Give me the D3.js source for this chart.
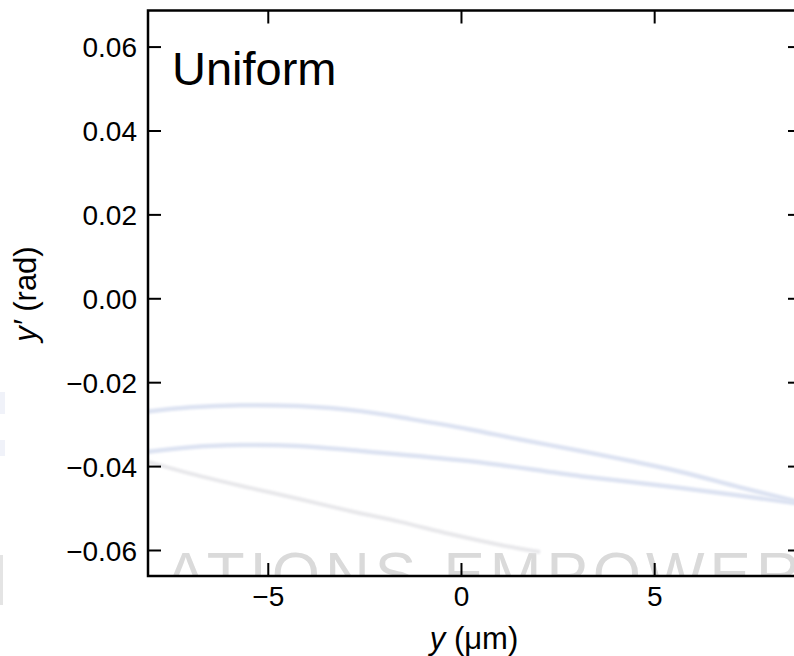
<!DOCTYPE html>
<html>
<head>
<meta charset="utf-8">
<script src="https://cdn.jsdelivr.net/npm/d3@7"></script>
<style>
  body { margin: 0; background: #fff; }
  svg { display: block; font-family: "Liberation Sans", Arial, sans-serif; }
</style>
</head>
<body>
<div id="chart"></div>
<script>
// axis ranges and ticks
var xDomain = [-8.1, 8.8];
var yDomain = [-0.0662, 0.0686];
var xTicks = [-5, 0, 5];
var yTicks = [0.06, 0.04, 0.02, 0.00, -0.02, -0.04, -0.06];

// faint curves (upper blue, middle blue, lower grey)
var upperX = [-8.1, -7.0, -5.7, -4.2, -2.6, -1.3, 0.2, 1.5, 3.1, 4.4, 5.7, 7.2, 8.8];
var upperY = [-0.0270, -0.0260, -0.0255, -0.0257, -0.0269, -0.0288, -0.0312, -0.0336, -0.0364, -0.0388, -0.0414, -0.0450, -0.0487];
var middleX = [-8.1, -7.0, -5.7, -4.2, -2.6, 0.2, 3.1, 5.7, 8.8];
var middleY = [-0.0366, -0.0355, -0.0350, -0.0352, -0.0364, -0.0388, -0.0424, -0.0452, -0.0490];
var lowerX = [-8.1, -6.75, -5.46, -4.16, -2.87, -1.57, -0.28, 1.02, 2.05];
var lowerY = [-0.0390, -0.0424, -0.0452, -0.0479, -0.0507, -0.0533, -0.0562, -0.0588, -0.0605];

var width = 794, height = 656;
var margin = {top: 10.5, right: -7, bottom: 80, left: 148};

var svg = d3.select("#chart").append("svg")
    .attr("width", width)
    .attr("height", height);

var x = d3.scaleLinear().domain(xDomain).range([margin.left, width - margin.right]);
var y = d3.scaleLinear().domain(yDomain).range([height - margin.bottom, margin.top]);

var defs = svg.append("defs");
defs.append("clipPath").attr("id", "plotclip")
  .append("rect")
    .attr("x", x.range()[0]).attr("y", y.range()[1])
    .attr("width", x.range()[1] - x.range()[0])
    .attr("height", y.range()[0] - y.range()[1]);
defs.append("filter").attr("id", "soft")
  .append("feGaussianBlur").attr("stdDeviation", 1.2);

var plot = svg.append("g").attr("clip-path", "url(#plotclip)");

// watermark text behind the plot
plot.append("text")
    .attr("x", 165)
    .attr("y", 595)
    .attr("fill", "#dadada")
    .style("font-size", "62px")
    .style("letter-spacing", "5px")
    .text("ATIONS EMPOWER");

// little watermark bits at the far left edge
svg.append("rect").attr("x", 0).attr("y", 555).attr("width", 3).attr("height", 50).attr("fill", "#e4e4e4");
svg.append("rect").attr("x", 0).attr("y", 392).attr("width", 5).attr("height", 22).attr("fill", "#f0f2f9");
svg.append("rect").attr("x", 0).attr("y", 440).attr("width", 5).attr("height", 16).attr("fill", "#f0f2f9");

var line = d3.line()
    .x(function(d) { return x(d[0]); })
    .y(function(d) { return y(d[1]); })
    .curve(d3.curveCatmullRom);

var curves = [
  {xs: upperX, ys: upperY, color: "#dde3f2", w: 4.5},
  {xs: middleX, ys: middleY, color: "#dde3f2", w: 4.5},
  {xs: lowerX, ys: lowerY, color: "#e8e8eb", w: 4}
];

curves.forEach(function(c) {
  plot.append("path")
      .datum(d3.zip(c.xs, c.ys))
      .attr("d", line)
      .attr("fill", "none")
      .attr("stroke", c.color)
      .attr("stroke-width", c.w)
      .attr("filter", "url(#soft)");
});

// axes: ticks point inward on all four sides
var tickLen = 13;
var fmtY = function(d) { return d3.format(".2f")(d).replace("-", "\u2212"); };
var fmtX = function(d) { return String(d).replace("-", "\u2212"); };

var axBottom = svg.append("g")
    .attr("transform", "translate(0," + y.range()[0] + ")")
    .call(d3.axisBottom(x).tickValues(xTicks).tickSize(-tickLen).tickPadding(10).tickFormat(fmtX));
var axTop = svg.append("g")
    .attr("transform", "translate(0," + y.range()[1] + ")")
    .call(d3.axisTop(x).tickValues(xTicks).tickSize(-tickLen).tickFormat(""));
var axLeft = svg.append("g")
    .attr("transform", "translate(" + x.range()[0] + ",0)")
    .call(d3.axisLeft(y).tickValues(yTicks).tickSize(-tickLen).tickPadding(11).tickFormat(fmtY));
var axRight = svg.append("g")
    .attr("transform", "translate(" + x.range()[1] + ",0)")
    .call(d3.axisRight(y).tickValues(yTicks).tickSize(-tickLen).tickFormat(""));

[axBottom, axTop, axLeft, axRight].forEach(function(g) {
  g.select(".domain").remove();
  g.selectAll(".tick line").attr("stroke", "#000").attr("stroke-width", 2);
  g.selectAll(".tick text")
      .attr("fill", "#000")
      .style("font-size", "28px")
      .style("font-family", "'Liberation Sans', Arial, sans-serif");
});
axBottom.selectAll(".tick text").attr("dy", "0.71em");
axLeft.selectAll(".tick text").attr("dy", "0.36em");
axTop.selectAll(".tick text").remove();
axRight.selectAll(".tick text").remove();

// frame
svg.append("rect")
    .attr("x", x.range()[0]).attr("y", y.range()[1])
    .attr("width", x.range()[1] - x.range()[0])
    .attr("height", y.range()[0] - y.range()[1])
    .attr("fill", "none")
    .attr("stroke", "#000")
    .attr("stroke-width", 2.5);

// panel label
svg.append("text")
    .attr("x", 172)
    .attr("y", 85)
    .style("font-size", "47px")
    .text("Uniform");

// axis titles
var xt = svg.append("text")
    .attr("x", 474)
    .attr("y", 649)
    .attr("text-anchor", "middle")
    .style("font-size", "31px");
xt.append("tspan").style("font-style", "italic").text("y");
xt.append("tspan").text(" (\u03bcm)");

var yt = svg.append("text")
    .attr("transform", "translate(36,294) rotate(-90)")
    .attr("text-anchor", "middle")
    .style("font-size", "31px");
yt.append("tspan").style("font-style", "italic").text("y\u2032");
yt.append("tspan").text(" (rad)");
</script>
</body>
</html>
